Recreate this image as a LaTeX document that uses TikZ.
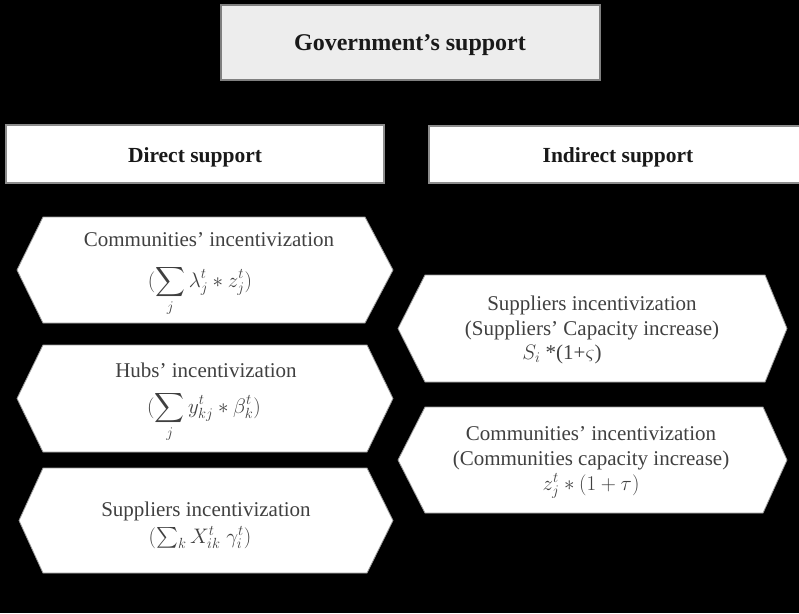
\RequirePackage{fix-cm}
\documentclass[tikz,border=0pt]{standalone}
\usepackage{amsmath}
\usepackage{fontspec}
\setmainfont{Liberation Serif}

% hexagon with pointed left/right ends: #1 left tip, #2 left corner,
% #3 right corner, #4 right tip, #5 top, #6 bottom
\newcommand\hexplate[6]{%
  \path[hexfill] (#1,{(#5+#6)/2}) -- (#2,#5) -- (#3,#5) -- (#4,{(#5+#6)/2})
    -- (#3,#6) -- (#2,#6) -- cycle;}

\begin{document}
\begin{tikzpicture}[x=1pt,y=-1pt,
  hexfill/.style={fill=white, draw=black!40, line width=0.8pt},
  govbox/.style={fill=black!7, draw=black!50, line width=1.4pt},
  headbox/.style={fill=white, draw=black!45, line width=1.2pt},
  headtext/.style={anchor=base, inner sep=0pt, text=black!90,
    font=\fontsize{21.5}{25}\selectfont\bfseries},
  hextext/.style={anchor=base, inner sep=0pt, text=black!75,
    font=\fontsize{21}{25}\selectfont}]

  \useasboundingbox (0,0) rectangle (799,613);
  \fill[black] (0,0) rectangle (799,613);

  % top heading
  \draw[govbox] (221,5) rectangle (600,80);
  \node[anchor=base, inner sep=0pt, text=black!90,
    font=\fontsize{24}{28}\selectfont\bfseries]
    (gov) at (410,50.5) {Government's support};

  % column headings
  \draw[headbox] (6,125) rectangle (384,183);
  \node[headtext] (direct) at (195,162) {Direct support};
  \draw[headbox] (429,126) rectangle (800,183);
  \node[headtext] (indirect) at (618,162) {Indirect support};

  % direct support items
  \hexplate{17}{43}{365}{393}{217}{323}
  \node[hextext] (dcommA) at (209,246) {Communities' incentivization};
  \node[hextext] (dcommB) at (200,287)
    {$\displaystyle(\sum_j \lambda_j^t \ast z_j^t)$};

  \hexplate{17}{43}{367}{393}{345}{452}
  \node[hextext] (dhubsA) at (206,377) {Hubs' incentivization};
  \node[hextext] (dhubsB) at (204,413)
    {$\displaystyle(\sum_j y_{kj}^t \ast \beta_k^t)$};

  \hexplate{19}{43}{367}{393}{468}{573}
  \node[hextext] (dsuppA) at (206,516) {Suppliers incentivization};
  \node[hextext] (dsuppB) at (200,543) {$(\sum_k X_{ik}^t\;\gamma_i^t)$};

  % indirect support items
  \hexplate{398}{425}{765}{787}{275}{382}
  \node[hextext] (isuppA) at (592,310) {Suppliers incentivization};
  \node[hextext] (isuppB) at (592,335) {(Suppliers' Capacity increase)};
  \node[hextext] (isuppC) at (562,359) {$S_i$ *(1+$\varsigma$)};

  \hexplate{398}{425}{763}{787}{407}{513}
  \node[hextext] (icommA) at (591,440) {Communities' incentivization};
  \node[hextext] (icommB) at (591,465) {(Communities capacity increase)};
  \node[hextext] (icommC) at (591,490) {$z_j^t \ast (1+\tau)$};
\end{tikzpicture}
\end{document}
